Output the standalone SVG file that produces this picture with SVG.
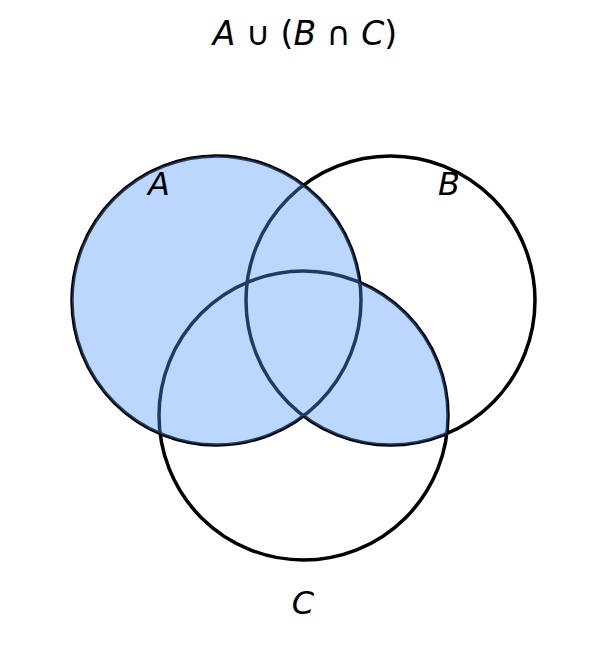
<svg xmlns="http://www.w3.org/2000/svg" width="607" height="648" viewBox="0 0 607 648">
<style>
.ring{fill:none;stroke:#000;stroke-width:3.5}
.shade{fill:#5299fd}
.lbl{font-family:"DejaVu Sans",sans-serif;font-size:32px;fill:#000}
.ttl{font-size:33px}
.it{font-style:italic}
</style>
<defs>
<clipPath id="clipB"><circle cx="390.5" cy="300.5" r="144.5"/></clipPath>
</defs>
<rect width="607" height="648" fill="#fff"/>
<g id="circles">
<g id="circleA"><circle class="ring" cx="216.5" cy="300.5" r="144.5"/></g>
<g id="circleB"><circle class="ring" cx="390.5" cy="300.5" r="144.5"/></g>
<g id="circleC"><circle class="ring" cx="303.5" cy="415.5" r="144.5"/></g>
</g>
<g id="shaded" opacity="0.39">
<circle class="shade" cx="216.5" cy="300.5" r="144.5"/>
<circle class="shade" cx="303.5" cy="415.5" r="144.5" clip-path="url(#clipB)"/>
</g>
<g id="labels">
<text class="lbl ttl" x="305" y="45" text-anchor="middle"><tspan class="it">A</tspan> ∪ (<tspan class="it">B</tspan> ∩ <tspan class="it">C</tspan>)</text>
<text class="lbl it" x="159" y="195" text-anchor="middle">A</text>
<text class="lbl it" x="449" y="195" text-anchor="middle">B</text>
<text class="lbl it" x="303" y="614" text-anchor="middle">C</text>
</g>
</svg>
